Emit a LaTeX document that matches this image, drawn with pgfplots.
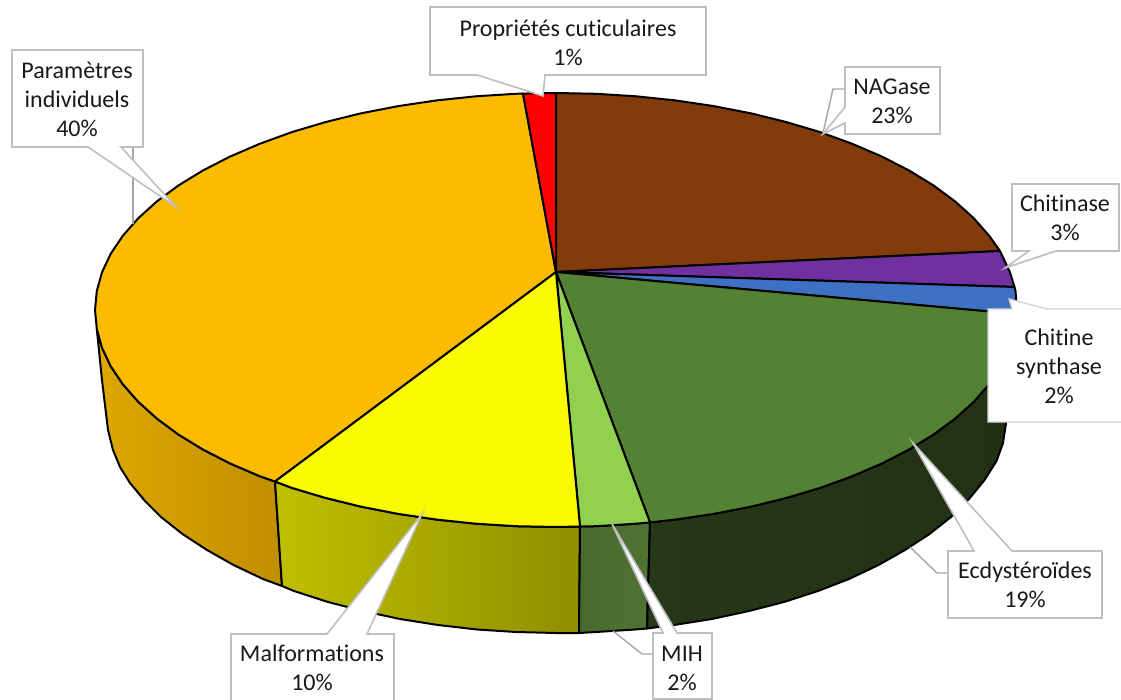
\documentclass[border=0pt]{standalone}
\usepackage{pgfplots}
\pgfplotsset{compat=1.18}
\usepackage{fontspec}
\setmainfont[Ligatures=NoCommon]{Carlito}
\definecolor{cbrown}{HTML}{823B0B}
\definecolor{cpurple}{HTML}{7030A0}
\definecolor{cblue}{HTML}{3E70C4}
\definecolor{cgreen}{HTML}{548235}
\definecolor{clight}{HTML}{92D050}
\definecolor{cyellow}{HTML}{FBFB00}
\definecolor{corange}{HTML}{FBBC00}
\definecolor{cred}{HTML}{FF0000}
\definecolor{cgrey}{HTML}{BFBFBF}
\definecolor{cleader}{HTML}{A6A6A6}
\pgfplotsset{
  slice/.style={draw=black,line width=2pt,line join=round},
  wall/.style={draw=black,line width=2pt,line join=round},
  callout/.style={fill=white,draw=cgrey,line width=1.6pt,line join=miter},
  leader/.style={draw=cleader,line width=1.4pt},
}
\tikzset{lab/.style={align=center,inner sep=0pt,font=\fontsize{24}{29}\selectfont,text=black!90}}
\begin{document}
\begin{tikzpicture}
\begin{axis}[hide axis,x=1pt,y=1pt,xmin=0,xmax=1121,ymin=0,ymax=700,y dir=reverse,clip=true]
% side walls
\addplot[wall,left color={rgb,255:red,222;green,167;blue,0},right color={rgb,255:red,192;green,143;blue,0}] coordinates {
(96.8,328.9)(102,347.7)(110.7,366.2)(122.8,384.2)(138.2,401.7)(156.8,418.5)(178.4,434.5)(202.9,449.5)(230,463.4)(259.7,476.2)(275,481.5)
(282,586)(263,579)(233.5,565)(207,550)(182.5,534)(161,517)(145,501)(130,483)(120,467)(113,450)(108,430)(102,380)} --cycle;
\addplot[wall,left color={rgb,255:red,192;green,192;blue,0},right color={rgb,255:red,143;green,143;blue,0}] coordinates {
(275,481.5)(291.6,487.8)(325.5,497.9)(361.2,506.7)(398.3,513.9)(436.7,519.6)(476,523.7)(515.8,526.2)(556,527)(580,526.5)
(579,633)(556,633)(516,632)(477,629.5)(438,625)(400,619)(363,611)(328,602)(294,591)(282,586)} --cycle;
\addplot[wall,left color={rgb,255:red,72;green,105;blue,45},right color={rgb,255:red,80;green,115;blue,50}] coordinates {
(580,526.5)(596.2,526.2)(636,523.7)(650,522.4)(647,628.5)(635,629.5)(596,632)(579,633)} --cycle;
\addplot[wall,left color={rgb,255:red,38;green,56;blue,24},right color={rgb,255:red,33;green,50;blue,20}] coordinates {
(650,522.4)(675.3,519.6)(713.7,513.9)(750.8,506.7)(786.5,497.9)(820.4,487.8)(852.3,476.2)(882,463.4)(909.1,449.5)(933.6,434.5)(955.2,418.5)(973.8,401.7)(989.2,384.2)(1001.3,366.2)(1010,347.7)(1015.2,328.9)(1017,310)
(1006,423)(1003,443)(996.5,461)(984.5,480)(969,499)(951,517)(929.5,534)(905,550)(878.5,565)(849,579)(818,591)(784,602)(749,611)(712,619)(674,625)(647,628.5)} --cycle;
% top slices
\addplot[slice,fill=corange] coordinates {(556,272)
(275,481.5)(259.7,476.2)(230,463.4)(202.9,449.5)(178.4,434.5)(156.8,418.5)(138.2,401.7)(122.8,384.2)(110.7,366.2)(102,347.7)(96.8,328.9)(95,310)(96.8,291.1)(102,272.3)(110.7,253.8)(122.8,235.8)(138.2,218.3)(156.8,201.5)(178.4,185.5)(202.9,170.5)(230,156.6)(259.7,143.8)(291.6,132.2)(325.5,122.1)(361.2,113.3)(398.3,106.1)(436.7,100.4)(476,96.3)(515.8,93.8)(523,93.6)} --cycle;
\addplot[slice,fill=cred] coordinates {(556,272)(523,93.6)(540,93.2)(556,93)} --cycle;
\addplot[slice,fill=cbrown] coordinates {(556,272)(556,93)(596.2,93.8)(636,96.3)(675.3,100.4)(713.7,106.1)(750.8,113.3)(786.5,122.1)(820.4,132.2)(852.3,143.8)(882,156.6)(909.1,170.5)(933.6,185.5)(955.2,201.5)(973.8,218.3)(989.2,235.8)(1000,251)} --cycle;
\addplot[slice,fill=cpurple] coordinates {(556,272)(1000,251)(1010,272.3)(1014.5,287)} --cycle;
\addplot[slice,fill=cblue] coordinates {(556,272)(1014.5,287)(1015.5,291.1)(1017,310)(1016.5,314)} --cycle;
\addplot[slice,fill=cgreen] coordinates {(556,272)(1016.5,314)(1015.2,328.9)(1010,347.7)(1001.3,366.2)(989.2,384.2)(973.8,401.7)(955.2,418.5)(933.6,434.5)(909.1,449.5)(882,463.4)(852.3,476.2)(820.4,487.8)(786.5,497.9)(750.8,506.7)(713.7,513.9)(675.3,519.6)(650,522.4)} --cycle;
\addplot[slice,fill=clight] coordinates {(556,272)(650,522.4)(636,523.7)(596.2,526.2)(580,526.5)} --cycle;
\addplot[slice,fill=cyellow] coordinates {(556,272)(580,526.5)(556,527)(515.8,526.2)(476,523.7)(436.7,519.6)(398.3,513.9)(361.2,506.7)(325.5,497.9)(291.6,487.8)(275,481.5)} --cycle;
% leader lines
\addplot[leader] coordinates {(133,147)(133,224)};
\addplot[leader] coordinates {(845,89)(833,89)(823,133)};
\addplot[leader] coordinates {(653,654)(642,654)(613,631)};
\addplot[leader] coordinates {(948,573)(937,573)(910,547)};
% callouts
\addplot[callout] coordinates {(430,7)(706,7)(706,75)(545,75)(543,96)(477,75)(430,75)} --cycle;
\addplot[callout] coordinates {(12,50)(143,50)(143,147)(121,147)(176,207)(88,147)(12,147)} --cycle;
\addplot[callout] coordinates {(845,67)(940,67)(940,134)(845,134)(845,123)(823,134)(845,107)} --cycle;
\addplot[callout] coordinates {(1012,184)(1119,184)(1119,251)(1056,251)(1005,268)(1029,251)(1012,251)} --cycle;
\addplot[callout,draw=cgrey!70,line width=1.3pt] coordinates {(988,309)(1012,309)(1009,299)(1047,309)(1130,309)(1130,422)(988,422)} --cycle;
\addplot[callout] coordinates {(653,633)(663,633)(612,524)(677,633)(712,633)(712,699)(653,699)} --cycle;
\addplot[callout] coordinates {(231,634)(327,634)(422,514)(367,634)(394,634)(394,710)(231,710)} --cycle;
\addplot[callout] coordinates {(948,551)(974,551)(913,443)(1012,551)(1102,551)(1102,618)(948,618)} --cycle;
% labels
\node[lab] at (axis cs:568,42.5) {Propriétés cuticulaires\\1\%};
\node[lab] at (axis cs:77,99) {Paramètres\\individuels\\40\%};
\node[lab] at (axis cs:892,101) {NAGase\\23\%};
\node[lab] at (axis cs:1065,218) {Chitinase\\3\%};
\node[lab] at (axis cs:1059,366) {Chitine\\synthase\\2\%};
\node[lab] at (axis cs:682,668) {MIH\\2\%};
\node[lab] at (axis cs:312,668) {Malformations\\10\%};
\node[lab] at (axis cs:1025,585) {Ecdystéroïdes\\19\%};
\end{axis}
\pgfresetboundingbox
\path[use as bounding box] (current axis.south west) rectangle (current axis.north east);
\end{tikzpicture}
\end{document}
